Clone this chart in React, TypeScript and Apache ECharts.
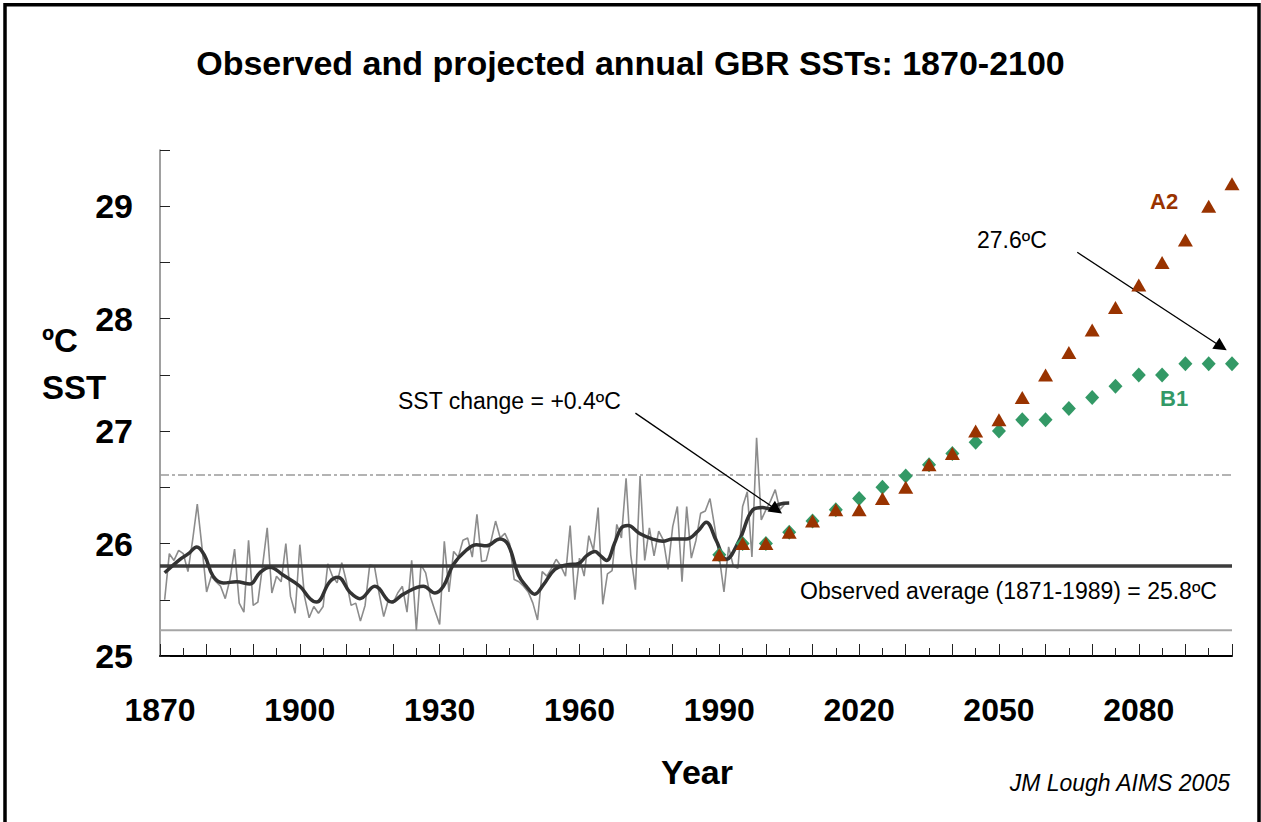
import React, { useEffect, useRef } from "react";
import * as echarts from "echarts";

// Observed annual GBR SST (°C), one value per year starting 1871
const annualStartYear = 1871;
const annualSST = [
  25.5, 25.91, 25.85, 25.94, 25.91, 25.75, 26.03, 26.35, 25.97, 25.57,
  25.71, 25.66, 25.62, 25.51, 25.68, 25.95, 25.47, 25.39, 26.03, 25.45,
  25.48, 25.8, 26.14, 25.56, 25.71, 25.66, 26.0, 25.53, 25.38, 25.99,
  25.53, 25.34, 25.44, 25.38, 25.44, 25.82, 25.71, 25.65, 25.83, 25.66,
  25.45, 25.47, 25.31, 25.45, 25.81, 25.8, 25.56, 25.35, 25.5, 25.47,
  25.56, 25.62, 25.39, 25.85, 25.23, 25.81, 25.74, 25.53, 25.4, 25.28,
  26.02, 25.57, 25.93, 25.88, 26.03, 26.05, 25.88, 26.26, 25.84, 25.85,
  26.02, 26.2, 26.05, 26.09, 26.0, 25.68, 25.66, 25.62, 25.57, 25.47,
  25.32, 25.75, 25.71, 25.78, 25.86, 25.8, 25.71, 26.16, 25.5, 25.87,
  25.71, 26.07, 25.94, 26.32, 25.46, 25.73, 25.76, 26.17, 26.05, 26.58,
  25.9, 25.59, 26.6, 25.85, 26.14, 25.89, 26.11, 26.03, 25.77, 26.15,
  26.33, 25.66, 26.33, 25.87, 26.03, 26.27, 26.29, 26.4, 26.15, 25.88,
  25.57, 25.97, 25.8, 25.78, 26.33, 26.46, 25.88, 26.94, 26.21, 26.3,
  26.38, 26.48, 26.3, 26.35,
];

// Smoothed observed curve
const smoothYears = [
  1871, 1874.3, 1876.1, 1877.9, 1879.6, 1881.4, 1883.6, 1886.4, 1889.3, 1891.4,
  1893.6, 1896.4, 1900, 1902.2, 1903.6, 1906.4, 1908.2, 1910.7, 1912.9, 1916.1,
  1919.7, 1922.2, 1926.5, 1929, 1930.8, 1932.9, 1935.7, 1937.9, 1940, 1942.9,
  1944.7, 1946.9, 1948.6, 1950.4, 1952.2, 1954.7, 1957.2, 1959.7, 1961.5, 1963.3,
  1964.3, 1965.8, 1967.5, 1969, 1970.4, 1972.9, 1975.7, 1977.9, 1980, 1982.9,
  1985.4, 1987.2, 1989.3, 1991.5, 1994.3, 1997.2, 1999.3, 2000.7, 2002.9, 2005,
];
const smoothSST = [
  25.74, 25.86, 25.91, 25.97, 25.89, 25.71, 25.65, 25.66, 25.64, 25.74,
  25.79, 25.72, 25.62, 25.51, 25.48, 25.66, 25.7, 25.57, 25.51, 25.62,
  25.48, 25.55, 25.62, 25.56, 25.62, 25.81, 25.94, 25.99, 25.98, 26.04,
  25.99, 25.72, 25.62, 25.55, 25.63, 25.77, 25.81, 25.82, 25.89, 25.93,
  25.9, 25.85, 26.0, 26.14, 26.16, 26.09, 26.04, 26.02, 26.04, 26.04,
  26.11, 26.19, 26.03, 25.86, 26.03, 26.3, 26.32, 26.31, 26.35, 26.36,
];

// Projections, every 5 years
const projYears = [
  1990, 1995, 2000, 2005, 2010, 2015, 2020, 2025, 2030, 2035, 2040, 2045,
  2050, 2055, 2060, 2065, 2070, 2075, 2080, 2085, 2090, 2095, 2100,
];
const a2SST = [
  25.9, 26.0, 26.0, 26.1, 26.2, 26.3, 26.3, 26.4, 26.5, 26.7, 26.8, 27.0,
  27.1, 27.3, 27.5, 27.7, 27.9, 28.1, 28.3, 28.5, 28.7, 29.0, 29.2,
];
const b1SST = [
  25.9, 26.0, 26.0, 26.1, 26.2, 26.3, 26.4, 26.5, 26.6, 26.7, 26.8, 26.9,
  27.0, 27.1, 27.1, 27.2, 27.3, 27.4, 27.5, 27.5, 27.6, 27.6, 27.6,
];

// Reference lines
const observedMean = 25.8;
const upperRef = 26.61;
const lowerRef = 25.23;

// Tick labels
const xLabelYears = [1870, 1900, 1930, 1960, 1990, 2020, 2050, 2080];
const yTickLabels = [25, 26, 27, 28, 29];

const FONT = "'Liberation Sans', Arial, Helvetica, sans-serif";

export default function App() {
  const ref = useRef<HTMLDivElement>(null);

  useEffect(() => {
    if (!ref.current) return;
    const chart = echarts.init(ref.current, undefined, { renderer: "svg" });

    const hLine = (v: number) => [
      [1870, v],
      [2100, v],
    ];

    const option: any = {
      animation: false,
      backgroundColor: "#ffffff",
      textStyle: { fontFamily: FONT },
      title: {
        text: "Observed and projected annual GBR SSTs: 1870-2100",
        left: "center",
        top: 41,
        textStyle: { fontFamily: FONT, fontSize: 34, fontWeight: "bold", color: "#000" },
      },
      grid: { left: 160, right: 29, top: 150, bottom: 166, containLabel: false },
      xAxis: {
        type: "value",
        min: 1870,
        max: 2100,
        interval: 10,
        axisLine: { show: true, lineStyle: { color: "#000", width: 2 } },
        axisTick: { show: true, inside: true, length: 12, lineStyle: { color: "#222", width: 1 } },
        minorTick: { show: true, splitNumber: 2, length: 8, lineStyle: { color: "#222", width: 1 } },
        splitLine: { show: false },
        minorSplitLine: { show: false },
        axisLabel: {
          show: true,
          margin: 38,
          fontFamily: FONT,
          fontSize: 32,
          fontWeight: "bold",
          color: "#000",
          formatter: (v: number) => (xLabelYears.includes(v) ? String(v) : ""),
        },
      },
      yAxis: {
        type: "value",
        min: 25,
        max: 29.5,
        interval: 0.5,
        axisLine: { show: true, lineStyle: { color: "#808080", width: 1.5 } },
        axisTick: { show: true, inside: true, length: 10, lineStyle: { color: "#222", width: 1 } },
        splitLine: { show: false },
        axisLabel: {
          show: true,
          margin: 27,
          fontFamily: FONT,
          fontSize: 34,
          fontWeight: "bold",
          color: "#000",
          formatter: (v: number) => (yTickLabels.includes(v) ? String(v) : ""),
        },
      },
      series: [
        {
          name: "lower",
          type: "line",
          data: hLine(lowerRef),
          symbol: "none",
          lineStyle: { color: "#a6a6a6", width: 2 },
          z: 1,
        },
        {
          name: "upper",
          type: "line",
          data: hLine(upperRef),
          symbol: "none",
          lineStyle: { color: "#9a9a9a", width: 1.5, type: [9, 3, 3, 3] },
          z: 1,
        },
        {
          name: "annual",
          type: "line",
          data: annualSST.map((v, i) => [annualStartYear + i, v]),
          symbol: "none",
          lineStyle: { color: "#8c8c8c", width: 1.6 },
          z: 2,
        },
        {
          name: "mean",
          type: "line",
          data: hLine(observedMean),
          symbol: "none",
          lineStyle: { color: "#3c3c3c", width: 3.5 },
          z: 3,
        },
        {
          name: "smoothed",
          type: "line",
          data: smoothYears.map((y, i) => [y, smoothSST[i]]),
          symbol: "none",
          smooth: 0.4,
          lineStyle: { color: "#333333", width: 3.5 },
          z: 4,
        },
        {
          name: "B1",
          type: "scatter",
          data: projYears.map((y, i) => [y, b1SST[i]]),
          symbol: "diamond",
          symbolSize: [14, 15],
          itemStyle: { color: "#339966", opacity: 1 },
          z: 5,
        },
        {
          name: "A2",
          type: "scatter",
          data: projYears.map((y, i) => [y, a2SST[i]]),
          symbol: "triangle",
          symbolSize: [15, 13],
          itemStyle: { color: "#993300", opacity: 1 },
          z: 6,
          markLine: {
            silent: true,
            symbol: ["none", "triangle"],
            symbolSize: [13, 13],
            label: { show: false },
            lineStyle: { color: "#000", width: 1.3, type: "solid", opacity: 1 },
            data: [
              [
                { coord: [1972.0, 27.16], symbol: "none" },
                { coord: [2002.3, 26.3], symbol: "triangle" },
              ],
              [
                { coord: [2066.8, 28.59], symbol: "none" },
                { coord: [2097.7, 27.75], symbol: "triangle" },
              ],
            ],
          },
        },
      ],
      graphic: [
        {
          type: "rect",
          shape: { x: 5, y: 4.7, width: 1254, height: 900 },
          style: { fill: "none", stroke: "#000", lineWidth: 3.5 },
          silent: true,
        },
        {
          type: "text",
          x: 42,
          y: 340,
          style: { text: "ºC", font: `bold 33px ${FONT}`, fill: "#000", textVerticalAlign: "middle" },
        },
        {
          type: "text",
          x: 42,
          y: 387,
          style: { text: "SST", font: `bold 33px ${FONT}`, fill: "#000", textVerticalAlign: "middle" },
        },
        {
          type: "text",
          x: 697,
          y: 772,
          style: { text: "Year", font: `bold 34px ${FONT}`, fill: "#000", textAlign: "center", textVerticalAlign: "middle" },
        },
        {
          type: "text",
          x: 1230,
          y: 783,
          style: { text: "JM Lough AIMS 2005", font: `italic 23px ${FONT}`, fill: "#000", textAlign: "right", textVerticalAlign: "middle" },
        },
        {
          type: "text",
          x: 398,
          y: 401,
          style: { text: "SST change = +0.4ºC", font: `23px ${FONT}`, fill: "#000", textVerticalAlign: "middle" },
        },
        {
          type: "text",
          x: 977,
          y: 240,
          style: { text: "27.6ºC", font: `23px ${FONT}`, fill: "#000", textVerticalAlign: "middle" },
        },
        {
          type: "text",
          x: 1150,
          y: 201,
          style: { text: "A2", font: `bold 22px ${FONT}`, fill: "#993300", textVerticalAlign: "middle" },
        },
        {
          type: "text",
          x: 1160,
          y: 398,
          style: { text: "B1", font: `bold 22px ${FONT}`, fill: "#339966", textVerticalAlign: "middle" },
        },
        {
          type: "text",
          x: 800,
          y: 591,
          style: { text: "Observed average (1871-1989) = 25.8ºC", font: `23px ${FONT}`, fill: "#000", textVerticalAlign: "middle" },
        },
      ],
    };

    chart.setOption(option);
    return () => chart.dispose();
  }, []);

  return (
    <div
      ref={ref}
      style={{ position: "absolute", left: 0, top: 0, width: 1261, height: 822, background: "#fff" }}
    />
  );
}
